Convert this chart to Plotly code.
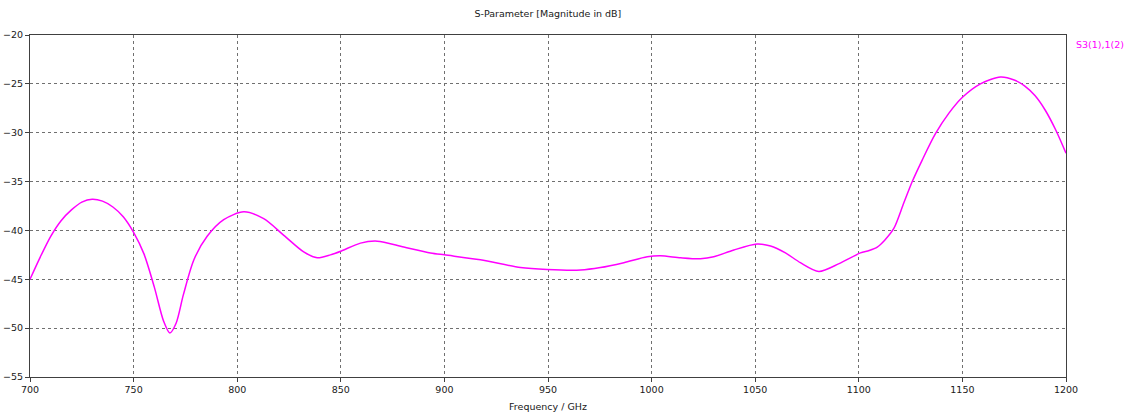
import plotly.graph_objects as go

# S3(1),1(2) magnitude trace, frequency in GHz and level in dB
freq_ghz = [
    700.0, 705.0, 710.0, 715.0, 720.0, 725.0, 730.0, 735.0, 740.0, 745.0,
    750.0, 755.0, 760.0, 764.5, 767.5, 770.5, 774.0, 779.1, 785.5, 793.5,
    803.2, 812.8, 822.5, 832.1, 838.6, 845.0, 850.3, 859.5, 867.6, 880.4,
    893.3, 900.0, 917.4, 936.7, 949.6, 965.7, 975.3, 986.6, 997.9, 1004.3,
    1014.0, 1023.6, 1030.0, 1039.7, 1050.9, 1057.4, 1064.6, 1071.8, 1080.7, 1090.5,
    1100.8, 1105.0, 1108.9, 1112.5, 1116.9, 1121.7, 1125.8, 1130.6, 1137.0, 1143.5,
    1149.9, 1158.7, 1168.4, 1175.0, 1180.0, 1185.0, 1190.0, 1195.0, 1200.0,
]
s31_db = [
    -45.0, -42.7, -40.6, -39.0, -37.9, -37.1, -36.8, -37.0, -37.6, -38.6,
    -40.2, -42.4, -45.8, -49.3, -50.5, -49.5, -46.6, -43.0, -40.6, -38.9,
    -38.1, -38.8, -40.5, -42.2, -42.8, -42.5, -42.1, -41.3, -41.1, -41.7,
    -42.3, -42.5, -43.0, -43.8, -44.0, -44.05, -43.8, -43.3, -42.7, -42.6,
    -42.8, -42.9, -42.7, -42.0, -41.4, -41.6, -42.3, -43.3, -44.2, -43.4,
    -42.3, -42.05, -41.7, -41.0, -39.8, -37.2, -35.0, -32.8, -30.1, -28.0,
    -26.4, -25.0, -24.3, -24.6, -25.2, -26.2, -27.7, -29.7, -32.1,
]

x_ticks = [700, 750, 800, 850, 900, 950, 1000, 1050, 1100, 1150, 1200]
y_ticks = [-55, -50, -45, -40, -35, -30, -25, -20]

trace_name = "S3(1),1(2)"
trace_color = "#FF00FF"
font_family = "DejaVu Sans"
font_size = 9.5
text_color = "#202020"

fig = go.Figure()
fig.add_trace(go.Scatter(
    x=freq_ghz, y=s31_db, mode="lines", name=trace_name,
    line=dict(color=trace_color, width=1.5, shape="spline", smoothing=0.8),
    showlegend=False,
))

axis_common = dict(
    showline=True, linecolor="#404040", linewidth=1, mirror=True,
    showgrid=True, gridcolor="#707070", gridwidth=1, griddash="dot",
    ticks="outside", ticklen=4, tickcolor="#404040",
    tickfont=dict(family=font_family, size=font_size, color=text_color),
    zeroline=False, automargin=False,
)

fig.update_xaxes(
    range=[700, 1200], tickvals=x_ticks,
    title=dict(text="Frequency / GHz", font=dict(family=font_family, size=font_size, color=text_color), standoff=8),
    **axis_common,
)
fig.update_yaxes(range=[-55, -20], tickvals=y_ticks, **axis_common)

fig.add_annotation(
    text=trace_name, xref="paper", yref="paper", x=1.008, y=0.972,
    xanchor="left", yanchor="middle", showarrow=False,
    font=dict(family=font_family, size=font_size, color=trace_color),
)

fig.update_layout(
    title=dict(text="S-Parameter [Magnitude in dB]", x=0.484, xanchor="center", y=0.968, yanchor="middle",
               font=dict(family=font_family, size=font_size, color=text_color)),
    width=1132, height=419,
    margin=dict(l=30, r=66, t=35, b=42),
    plot_bgcolor="white", paper_bgcolor="white",
)

fig.write_html("out.html")
